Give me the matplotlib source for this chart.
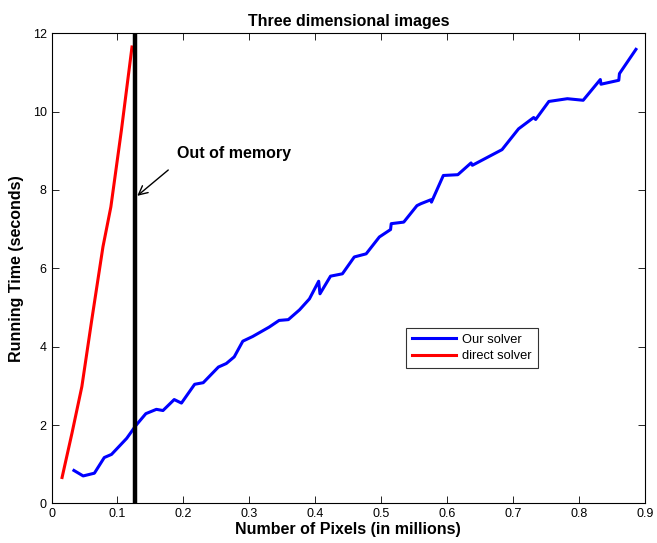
import matplotlib
matplotlib.use("Agg")
import matplotlib.pyplot as plt

plt.rcParams['font.family'] = ['Liberation Sans', 'DejaVu Sans']

# our solver (pixels in millions, seconds)
ours_x = [0.034, 0.048, 0.065, 0.080, 0.091, 0.114, 0.128, 0.143, 0.159, 0.169,
          0.186, 0.197, 0.217, 0.230, 0.253, 0.265, 0.277, 0.290, 0.305, 0.330,
          0.345, 0.359, 0.376, 0.391, 0.405, 0.407, 0.423, 0.441, 0.459, 0.477,
          0.497, 0.514, 0.515, 0.534, 0.554, 0.560, 0.575, 0.576, 0.594, 0.616,
          0.636, 0.638, 0.683, 0.708, 0.731, 0.734, 0.754, 0.782, 0.806, 0.832,
          0.833, 0.860, 0.861, 0.886]
ours_y = [0.84, 0.70, 0.77, 1.17, 1.25, 1.66, 1.99, 2.29, 2.40, 2.37,
          2.65, 2.56, 3.04, 3.08, 3.48, 3.57, 3.74, 4.14, 4.26, 4.50,
          4.67, 4.69, 4.94, 5.22, 5.67, 5.35, 5.80, 5.86, 6.29, 6.37,
          6.80, 6.99, 7.14, 7.18, 7.60, 7.65, 7.75, 7.69, 8.37, 8.39,
          8.69, 8.63, 9.03, 9.56, 9.85, 9.80, 10.26, 10.33, 10.29, 10.82,
          10.70, 10.80, 10.97, 11.59]

# direct solver
direct_x = [0.016, 0.031, 0.046, 0.061, 0.078, 0.090, 0.106, 0.122]
direct_y = [0.66, 1.79, 2.98, 4.68, 6.55, 7.57, 9.53, 11.65]

mem_limit = 0.126

fig = plt.figure(figsize=(6.57, 5.43), dpi=100)
ax = fig.add_axes([0.0784, 0.073, 0.9036, 0.8657])

ax.plot(ours_x, ours_y, color='#0000ff', lw=2.2, label='Our solver')
ax.plot(direct_x, direct_y, color='#ff0000', lw=2.2, label='direct solver')
ax.plot([mem_limit, mem_limit], [0, 12], color='black', lw=3.2)

ax.annotate('', xy=(0.130, 7.85), xytext=(0.177, 8.51),
            arrowprops=dict(arrowstyle='->', color='black', lw=1.0,
                            shrinkA=0, shrinkB=0, mutation_scale=16))
ax.text(0.190, 8.94, 'Out of memory', fontsize=11.5, fontweight='bold', va='center')

ax.set_xlim(0, 0.9)
ax.set_ylim(0, 12)
ax.set_xticks([0, 0.1, 0.2, 0.3, 0.4, 0.5, 0.6, 0.7, 0.8, 0.9])
ax.set_xticklabels(['0', '0.1', '0.2', '0.3', '0.4', '0.5', '0.6', '0.7', '0.8', '0.9'])
ax.set_yticks([0, 2, 4, 6, 8, 10, 12])
ax.tick_params(direction='in', top=True, right=True, labelsize=9, length=5, width=0.6)
for s in ax.spines.values():
    s.set_linewidth(0.8)

ax.set_title('Three dimensional images', fontsize=11.5, fontweight='bold', pad=5)
ax.set_xlabel('Number of Pixels (in millions)', fontsize=11.5, fontweight='bold', labelpad=1)
ax.set_ylabel('Running Time (seconds)', fontsize=11.5, fontweight='bold', labelpad=6)

leg = ax.legend(loc='upper left', bbox_to_anchor=(0.597, 0.373), fontsize=9.3,
                frameon=True, fancybox=False, edgecolor='black', borderpad=0.45,
                handlelength=3.4, handletextpad=0.5, labelspacing=0.35, borderaxespad=0)
leg.get_frame().set_linewidth(0.8)

fig.savefig('out.png', dpi=100)
